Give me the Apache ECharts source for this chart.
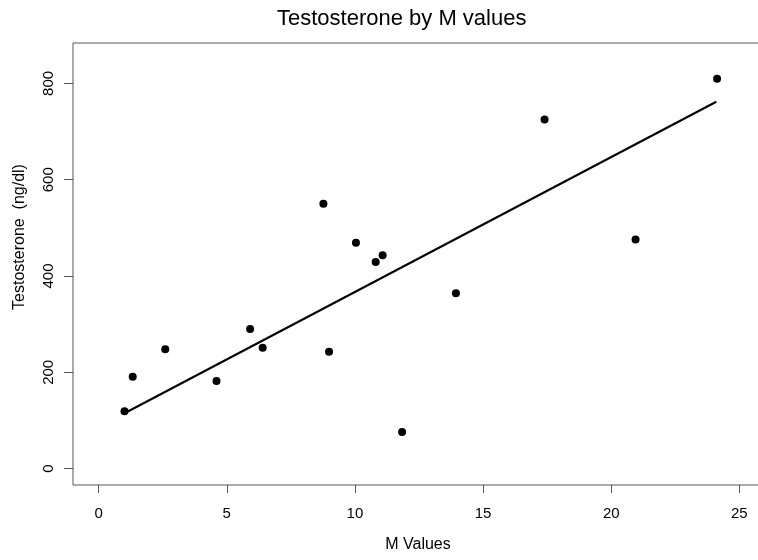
<!DOCTYPE html>
<html>
<head>
<meta charset="utf-8">
<title>Testosterone by M values</title>
<script src="https://cdn.jsdelivr.net/npm/echarts@6/dist/echarts.min.js"></script>
<style>
  html, body { margin: 0; padding: 0; background: #fff; }
</style>
</head>
<body>
<div id="myChart" style="width: 758px; height: 560px;"></div>
<script>
// values
var mValues = [1.01, 1.33, 2.60, 4.60, 5.91, 6.40, 8.77, 8.99, 10.04, 10.81, 11.08, 11.84, 13.94, 17.40, 20.95, 24.13];
var testosterone = [119, 191, 248, 182, 290, 251, 550, 243, 469, 429, 443, 76, 364, 725, 476, 810];
// ends of the fitted line
var fitX = [1.01, 24.10];
var fitY = [115, 762];
var xTicks = [0, 5, 10, 15, 20, 25];
var yTicks = [0, 200, 400, 600, 800];

var font = "'Liberation Sans', Arial, Helvetica, sans-serif";
var axisColor = "#555";

var points = mValues.map(function (x, i) { return [x, testosterone[i]]; });
var fitLine = fitX.map(function (x, i) { return [x, fitY[i]]; });

var myChart = echarts.init(document.getElementById("myChart"));
myChart.setOption({
  animation: false,
  title: {
    text: "Testosterone by M values",
    left: 277,
    top: 8,
    padding: 0,
    textStyle: { fontFamily: font, fontSize: 22, fontWeight: "normal", color: "#000" }
  },
  grid: {
    left: 73,
    top: 43,
    width: 692,   // plot box runs past the right edge, as in the reference
    height: 442,
    outerBoundsMode: "none",
    show: true,
    borderColor: axisColor,
    borderWidth: 1
  },
  xAxis: {
    type: "value",
    min: -1,
    max: 26,
    splitLine: { show: false },
    axisLine: { show: false, onZero: false },
    axisTick: { show: true, length: 8, customValues: xTicks, lineStyle: { color: axisColor } },
    axisLabel: { customValues: xTicks, margin: 21, fontFamily: font, fontSize: 15, color: "#000" }
  },
  yAxis: {
    type: "value",
    min: -34,
    max: 884,
    splitLine: { show: false },
    axisLine: { show: false, onZero: false },
    axisTick: { show: true, length: 9, customValues: yTicks, lineStyle: { color: axisColor } },
    axisLabel: { customValues: yTicks, rotate: 90, margin: 17, fontFamily: font, fontSize: 15, color: "#000" }
  },
  graphic: [
    {
      type: "text",
      x: 418,
      y: 545,
      style: { text: "M Values", font: "16px " + font, fill: "#000", textAlign: "center", textVerticalAlign: "middle" }
    },
    {
      type: "text",
      x: 20,
      y: 237,
      rotation: Math.PI / 2,
      style: { text: "Testosterone  (ng/dl)", font: "16px " + font, fill: "#000", textAlign: "center", textVerticalAlign: "middle" }
    }
  ],
  series: [
    {
      type: "scatter",
      data: points,
      symbol: "circle",
      symbolSize: 8,
      itemStyle: { color: "#000", opacity: 1 }
    },
    {
      type: "line",
      data: fitLine,
      symbol: "none",
      lineStyle: { color: "#000", width: 2 }
    }
  ]
});
</script>
</body>
</html>
